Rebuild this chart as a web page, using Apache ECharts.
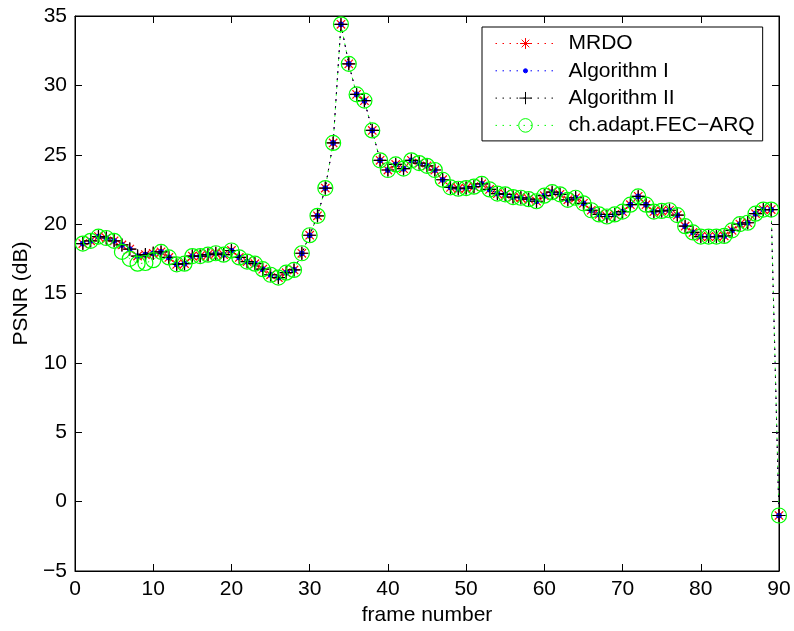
<!DOCTYPE html>
<html>
<head>
<meta charset="utf-8">
<script src="https://cdn.jsdelivr.net/npm/echarts@6/dist/echarts.min.js"></script>
<style>
html,body{margin:0;padding:0;background:#fff;}
#chart{width:794px;height:631px;}
</style>
</head>
<body>
<div id="chart"></div>
<script>
// frame numbers 1..90
var frames = [];
for (var i = 1; i <= 90; i++) frames.push(i);

var mrdo = [18.6,18.8,19.1,19.0,18.8,18.5,18.2,17.7,17.8,17.9,
            18.0,17.6,17.1,17.15,17.7,17.7,17.8,17.9,17.8,18.1,
            17.6,17.3,17.15,16.75,16.35,16.15,16.5,16.7,17.9,19.2,
            20.6,22.6,25.85,34.4,31.55,29.35,28.9,26.75,24.6,23.9,
            24.3,24.0,24.6,24.4,24.2,23.9,23.2,22.65,22.55,22.6,
            22.7,22.9,22.5,22.2,22.15,21.95,21.9,21.8,21.65,22.05,
            22.3,22.15,21.75,21.9,21.5,21.0,20.7,20.55,20.7,20.9,
            21.4,22.0,21.4,20.9,20.95,21.0,20.65,19.85,19.4,19.1,
            19.1,19.1,19.15,19.55,20.0,20.1,20.75,21.05,21.05,-1.0];
var algI  = mrdo.slice();
var algII = mrdo.slice();
var fecArq = [18.6,18.8,19.1,19.0,18.8,18.0,17.5,17.15,17.2,17.4,
            18.0,17.6,17.1,17.15,17.7,17.7,17.8,17.9,17.8,18.1,
            17.6,17.3,17.15,16.75,16.35,16.15,16.5,16.7,17.9,19.2,
            20.6,22.6,25.85,34.4,31.55,29.35,28.9,26.75,24.6,23.9,
            24.3,24.0,24.6,24.4,24.2,23.9,23.2,22.65,22.55,22.6,
            22.7,22.9,22.5,22.2,22.15,21.95,21.9,21.8,21.65,22.05,
            22.3,22.15,21.75,21.9,21.5,21.0,20.7,20.55,20.7,20.9,
            21.4,22.0,21.4,20.9,20.95,21.0,20.65,19.85,19.4,19.1,
            19.1,19.1,19.15,19.55,20.0,20.1,20.75,21.05,21.05,-1.0];

var seriesNames = ['MRDO', 'Algorithm I', 'Algorithm II', 'ch.adapt.FEC\u2212ARQ'];
var xTicks = {min: 0, max: 90, interval: 10};
var yTicks = {min: -5, max: 35, interval: 5};

function pairs(arr) { return frames.map(function (f, k) { return [f, arr[k]]; }); }

var FONT = '"Liberation Sans", Arial, Helvetica, sans-serif';
var dotted = [1.5, 5.5];

var SYM_STAR = 'path://M0,0M10,10M1,5L9,5M5,1L5,9M2.2,2.2L7.8,7.8M2.2,7.8L7.8,2.2';
var SYM_PLUS = 'path://M0,0M10,10M0.5,5L9.5,5M5,0.5L5,9.5';
var SYM_DOT  = 'path://M0,0M10,10M5,3.5A1.5,1.5 0 1 1 5,6.5A1.5,1.5 0 1 1 5,3.5Z';

function mk(name, arr, color, symbol, fill, stroke, size) {
  return {
    name: name, type: 'line', data: pairs(arr),
    symbol: symbol, symbolSize: size, showSymbol: true,
    lineStyle: {color: color, width: 1, type: dotted},
    itemStyle: {color: fill, borderColor: stroke, borderWidth: 1.2},
    emphasis: {disabled: true},
    xAxisIndex: 0, yAxisIndex: 0, z: 2
  };
}

function axisLineTick() {
  return {
    axisLine: {show: true, onZero: false, lineStyle: {color: '#000', width: 1}},
    axisTick: {show: true, inside: true, length: 7, lineStyle: {color: '#000', width: 1}},
    splitLine: {show: false}
  };
}
function merge(a, b) { for (var k in b) a[k] = b[k]; return a; }
var emptyLabel = {show: true, formatter: function () { return ''; }};

var chart = echarts.init(document.getElementById('chart'), null, {renderer: 'canvas'});
chart.setOption({
  animation: false,
  backgroundColor: '#fff',
  textStyle: {fontFamily: FONT},
  grid: {show: true, left: 75, right: 15, top: 16, bottom: 60, containLabel: false,
         borderColor: '#000', borderWidth: 1, backgroundColor: 'transparent'},
  legend: {
    orient: 'vertical', left: 482, top: 27,
    padding: [6, 8, 5, 13],
    itemWidth: 60, itemHeight: 17, itemGap: 6.3,
    borderColor: '#000', borderWidth: 1, backgroundColor: '#fff',
    itemStyle: {borderWidth: 1},
    lineStyle: {width: 1},
    textStyle: {fontFamily: FONT, fontSize: 21, color: '#000', lineHeight: 21, padding: [0, 0, 0, 8]},
    selectedMode: false,
    data: seriesNames
  },
  xAxis: [
    merge({
      type: 'value', min: xTicks.min, max: xTicks.max, interval: xTicks.interval,
      position: 'bottom',
      name: 'frame number', nameLocation: 'middle', nameGap: 33,
      nameTextStyle: {fontFamily: FONT, fontSize: 21, color: '#000'},
      axisLabel: {fontFamily: FONT, fontSize: 21, color: '#000', margin: 8}
    }, axisLineTick()),
    merge({
      type: 'value', min: xTicks.min, max: xTicks.max, interval: xTicks.interval,
      position: 'top', axisLabel: emptyLabel
    }, axisLineTick())
  ],
  yAxis: [
    merge({
      type: 'value', min: yTicks.min, max: yTicks.max, interval: yTicks.interval,
      position: 'left',
      name: 'PSNR (dB)', nameLocation: 'middle', nameGap: 40,
      nameTextStyle: {fontFamily: FONT, fontSize: 21, color: '#000'},
      axisLabel: {fontFamily: FONT, fontSize: 21, color: '#000', margin: 8,
        formatter: function (v) { return v < 0 ? '\u2212' + Math.abs(v) : String(v); }}
    }, axisLineTick()),
    merge({
      type: 'value', min: yTicks.min, max: yTicks.max, interval: yTicks.interval,
      position: 'right', axisLabel: emptyLabel
    }, axisLineTick())
  ],
  series: [
    mk(seriesNames[0], mrdo, '#ff0000', SYM_STAR, 'none', '#ff0000', 15),
    mk(seriesNames[1], algI, '#0000ff', SYM_DOT, '#0000ff', '#0000ff', 15),
    mk(seriesNames[2], algII, '#000000', SYM_PLUS, 'none', '#000000', 15),
    mk(seriesNames[3], fecArq, '#00ff00', 'circle', 'none', '#00ff00', 15)
  ]
});
</script>
</body>
</html>
